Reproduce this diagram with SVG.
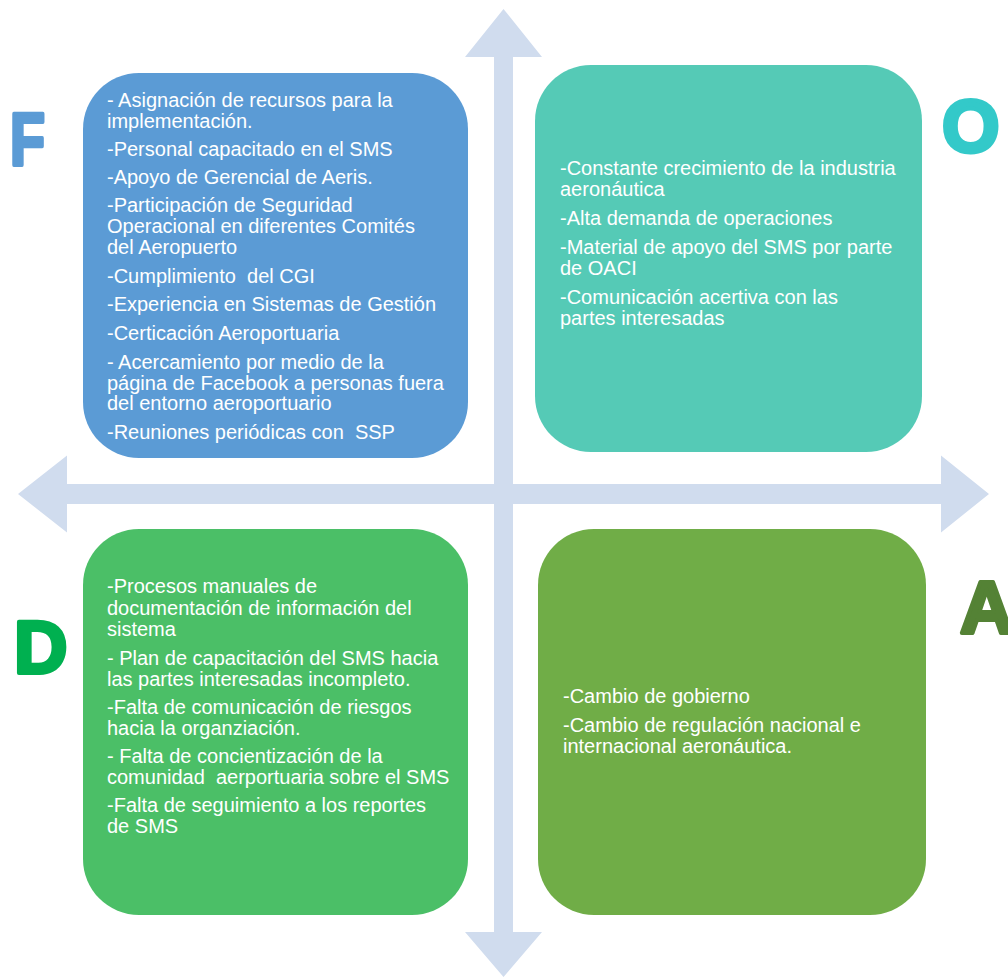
<svg xmlns="http://www.w3.org/2000/svg" width="1008" height="977" viewBox="0 0 1008 977">
<style>
.t{font-family:"Liberation Sans",Arial,sans-serif;font-size:20px;fill:#ffffff}
.p{white-space:pre}
.L{font-family:"Liberation Sans",Arial,sans-serif;font-weight:bold;font-size:74px;stroke-width:4;stroke-linejoin:round}
</style>
<rect width="1008" height="977" fill="#ffffff"/>
<g id="connectors">
<polygon fill="#D0DCEE" points="503.5,9 542,57 513,57 513,484 941,484 941,455.5 989,494 941,532.5 941,504 513,504 513,932 542,932 503.5,977 465,932 494,932 494,504 67,504 67,532.5 18,494 67,455.5 67,484 494,484 494,57 465,57"/>
</g>
<g id="F">
<rect x="83" y="73" width="385" height="385" rx="56" fill="#5B9BD5"/>
<text class="t">
<tspan x="107" y="107">- Asignación de recursos para la</tspan>
<tspan x="107" y="128">implementación.</tspan>
<tspan x="107" y="156">-Personal capacitado en el SMS</tspan>
<tspan x="107" y="184">-Apoyo de Gerencial de Aeris.</tspan>
<tspan x="107" y="212">-Participación de Seguridad</tspan>
<tspan x="107" y="233">Operacional en diferentes Comités</tspan>
<tspan x="107" y="254">del Aeropuerto</tspan>
<tspan class="p" x="107" y="283">-Cumplimiento  del CGI</tspan>
<tspan x="107" y="311">-Experiencia en Sistemas de Gestión</tspan>
<tspan x="107" y="340">-Certicación Aeroportuaria</tspan>
<tspan x="107" y="369">- Acercamiento por medio de la</tspan>
<tspan x="107" y="390">página de Facebook a personas fuera</tspan>
<tspan x="107" y="410">del entorno aeroportuario</tspan>
<tspan class="p" x="107" y="439">-Reuniones periódicas con  SSP</tspan>
</text>
</g>
<g id="O">
<rect x="535" y="65" width="387" height="387" rx="56" fill="#55CAB6"/>
<text class="t">
<tspan x="560" y="175">-Constante crecimiento de la industria</tspan>
<tspan x="560" y="196">aeronáutica</tspan>
<tspan x="560" y="225">-Alta demanda de operaciones</tspan>
<tspan x="560" y="254">-Material de apoyo del SMS por parte</tspan>
<tspan x="560" y="275">de OACI</tspan>
<tspan x="560" y="304">-Comunicación acertiva con las</tspan>
<tspan x="560" y="325">partes interesadas</tspan>
</text>
</g>
<g id="D">
<rect x="83" y="529" width="385" height="386" rx="56" fill="#4BBF67"/>
<text class="t">
<tspan x="107" y="593">-Procesos manuales de</tspan>
<tspan x="107" y="615">documentación de información del</tspan>
<tspan x="107" y="636">sistema</tspan>
<tspan x="107" y="665">- Plan de capacitación del SMS hacia</tspan>
<tspan x="107" y="686">las partes interesadas incompleto.</tspan>
<tspan x="107" y="714">-Falta de comunicación de riesgos</tspan>
<tspan x="107" y="735">hacia la organziación.</tspan>
<tspan x="107" y="763">- Falta de concientización de la</tspan>
<tspan class="p" x="107" y="784">comunidad  aerportuaria sobre el SMS</tspan>
<tspan x="107" y="812">-Falta de seguimiento a los reportes</tspan>
<tspan x="107" y="833">de SMS</tspan>
</text>
</g>
<g id="A">
<rect x="538" y="529" width="388" height="386" rx="56" fill="#70AD47"/>
<text class="t">
<tspan x="563" y="703">-Cambio de gobierno</tspan>
<tspan x="563" y="732">-Cambio de regulación nacional e</tspan>
<tspan x="563" y="753">internacional aeronáutica.</tspan>
</text>
</g>
<g id="letter-F"><text class="L" x="10" y="165" fill="#5B9BD5" stroke="#5B9BD5" textLength="35" lengthAdjust="spacingAndGlyphs">F</text></g>
<g id="letter-O"><text class="L" x="942" y="152" fill="#33C9C9" stroke="#33C9C9">O</text></g>
<g id="letter-D"><text class="L" x="14" y="673" fill="#00B050" stroke="#00B050">D</text></g>
<g id="letter-A"><text class="L" x="960" y="633" fill="#548235" stroke="#548235">A</text></g>
</svg>
